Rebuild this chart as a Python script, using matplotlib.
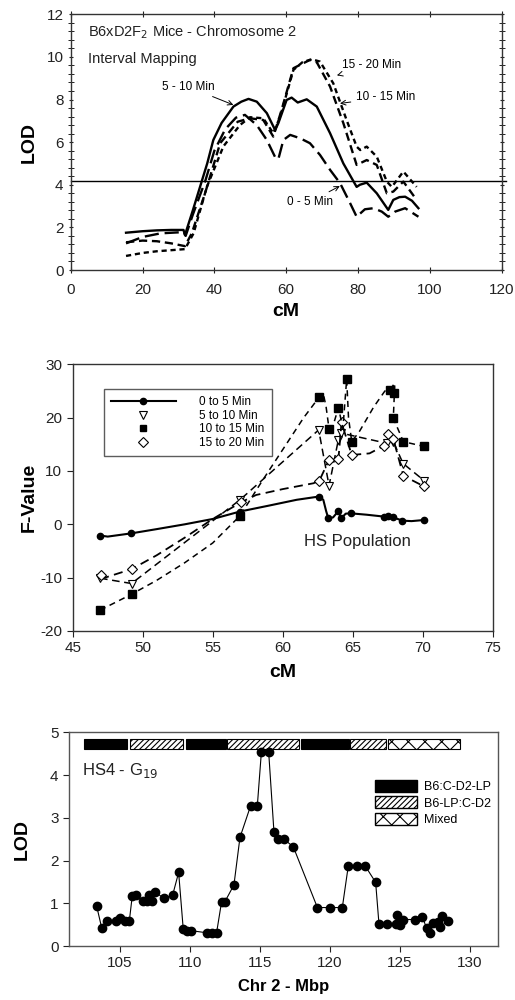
import matplotlib
matplotlib.use("Agg")
import matplotlib.pyplot as plt
from matplotlib.lines import Line2D
from matplotlib.patches import Patch

plt.rcParams['font.family'] = ['Liberation Sans', 'DejaVu Sans']
plt.rcParams['hatch.linewidth'] = 0.8
plt.rcParams['axes.unicode_minus'] = False

# %% Panel 1 - interval mapping LOD curves (B6xD2F2, chr 2)
x_0to5 = [15.4, 20, 25, 31.5, 32, 34, 37.5, 40, 43, 46, 48.5, 51.8, 54.6, 56.9, 57.8, 59.2,
          61.1, 63.9, 66.6, 69.4, 72.2, 75, 77.8, 79.6, 81.9, 84.3, 86.6, 88.4, 90.3, 93.1, 96.8]
lod_0to5 = [1.25, 1.55, 1.72, 1.78, 1.6, 2.6, 4.2, 5.6, 6.6, 7.15, 7.28, 6.8, 6.1, 5.3, 5.2, 6.1,
            6.34, 6.18, 5.95, 5.4, 4.7, 4.07, 3.13, 2.5, 2.85, 2.9, 2.74, 2.5, 2.74, 2.9, 2.5]

x_5to10 = [15.4, 20, 24, 28, 31.4, 31.8, 34, 36, 38, 39.7, 42, 45.3, 47.5, 49.5, 51.8, 54.6,
           56.9, 57.8, 60.1, 61.5, 63.2, 65.7, 68.5, 72.2, 75.9, 79.6, 80.5, 82.4, 85.2, 88.4,
           89.8, 91.5, 93.1, 95, 96.8]
lod_5to10 = [1.75, 1.82, 1.86, 1.88, 1.88, 1.64, 2.8, 3.9, 5.0, 6.1, 6.9, 7.67, 7.9, 8.03, 7.9, 7.36,
             6.57, 6.89, 7.98, 8.09, 7.86, 8.01, 7.67, 6.42, 5.0, 3.9, 4.0, 4.1, 3.6, 2.82,
             3.29, 3.42, 3.44, 3.25, 2.9]

x_10to15 = [15.4, 20, 24, 28, 31.8, 33.7, 37.4, 41.6, 46.5, 49.9, 53.6, 56.4, 58.7, 62, 66.6,
            68.5, 72.2, 75.9, 79.6, 82.4, 85.2, 88, 89.8, 92.6, 96.3]
lod_10to15 = [1.3, 1.38, 1.35, 1.25, 1.12, 1.72, 3.6, 5.95, 6.96, 7.12, 7.04, 6.26, 7.51, 9.47, 9.86,
              9.75, 8.61, 6.89, 4.93, 5.16, 4.93, 3.6, 3.68, 4.15, 3.29]

x_15to20 = [15.4, 20, 24, 28, 31.8, 34.2, 37.9, 42.5, 47.1, 49.9, 53.6, 56.4, 58.3, 62, 64.5,
            67.1, 69.4, 73.1, 76.8, 79.6, 80.6, 82.4, 85.2, 88, 89.4, 92.6, 96.3]
lod_15to20 = [0.66, 0.8, 0.88, 0.93, 0.98, 1.72, 3.9, 5.8, 6.8, 7.17, 7.12, 6.42, 7.2, 9.39, 9.75,
              9.89, 9.78, 8.76, 7.04, 5.79, 5.63, 5.79, 5.32, 4.15, 3.9, 4.62, 3.9]

threshold = 4.2

# %% Panel 2 - HS population F-values
f_0to5_x = [46.95, 49.17, 56.95, 62.57, 63.26, 63.98, 64.17, 64.86, 67.26, 67.55, 67.9, 68.55, 70.1]
f_0to5 = [-2.1, -1.7, 2.4, 5.2, 1.1, 2.5, 1.1, 2.06, 1.44, 1.56, 1.3, 0.69, 0.81]
# points
curve_0to5_x = [46.95, 47.5, 49.17, 51, 53, 55, 56.95, 59, 61, 62.57, 62.9, 63.1, 63.26, 63.6,
                63.98, 64.17, 64.5, 64.86, 66, 67.26, 67.55, 67.9, 68.55, 69.2, 70.1]
curve_0to5 = [-2.1, -2.3, -1.7, -0.9, 0.0, 1.0, 2.4, 3.5, 4.6, 5.2, 4.6, 2.5, 1.1, 1.3,
              2.5, 1.1, 2.0, 2.06, 1.8, 1.44, 1.56, 1.3, 0.69, 0.6, 0.81]

f_5to10_x = [46.95, 49.2, 56.95, 62.57, 63.31, 63.98, 64.17, 67.43, 67.9, 68.6, 70.1]
f_5to10 = [-10.1, -11.1, 4.6, 17.7, 7.25, 15.9, 17.1, 15.2, 15.5, 11.4, 8.2]

f_10to15_x = [46.95, 49.21, 56.95, 62.62, 63.31, 63.98, 64.57, 64.93, 67.67, 67.98, 67.9, 68.62, 70.1]
f_10to15 = [-16.1, -13.1, 1.6, 23.9, 17.9, 21.9, 27.25, 15.5, 25.2, 24.7, 19.9, 15.5, 14.6]
curve_10to15_x = [46.95, 49.21, 51, 53, 55, 56.95, 58.5, 60, 61.5, 62.62, 62.9, 63.1, 63.31, 63.6,
                  63.98, 64.3, 64.57, 64.7, 64.93, 65.5, 66.5, 67.3, 67.67, 68.0, 67.98, 67.9,
                  68.62, 70.1]
curve_10to15 = [-16.1, -13.1, -10.5, -7.2, -3.5, 1.6, 8.0, 14.0, 20.0, 23.9, 24.5, 22.0, 17.9, 18.5,
                21.9, 18.0, 27.25, 20.0, 15.5, 17.5, 22.0, 25.0, 25.2, 26.5, 24.7, 19.9,
                15.5, 14.6]

f_15to20_x = [47.0, 49.21, 57.0, 62.62, 63.31, 63.98, 64.2, 64.93, 67.26, 67.55, 67.9, 68.62, 70.1]
f_15to20 = [-9.5, -8.4, 4.1, 8.2, 12.1, 12.25, 19.1, 13.0, 14.75, 16.9, 16.0, 9.1, 7.1]
curve_15to20_x = [47.0, 47.3, 49.21, 51, 53, 55, 57.0, 58.1, 60, 62.2, 62.62, 63.31, 63.98,
                  64.2, 64.93, 66.2, 67.26, 67.55, 67.9, 68.62, 70.1]
curve_15to20 = [-9.5, -10.0, -8.4, -5.8, -2.5, 1.0, 4.1, 5.5, 6.6, 7.7, 8.2, 12.1, 12.25,
                19.1, 13.0, 13.3, 14.75, 16.9, 16.0, 9.1, 7.1]

# %% Panel 3 - HS4 G19 LOD vs Mbp
mbp = [103.33, 103.69, 104.1, 104.69, 105.0, 105.36, 105.67, 105.88, 106.14, 106.62, 106.9,
       107.07, 107.26, 107.48, 108.12, 108.76, 109.19, 109.52, 109.81, 110.05, 111.19, 111.55,
       111.9, 112.26, 112.5, 113.14, 113.57, 114.33, 114.81, 115.1, 115.62, 116.0, 116.29,
       116.71, 117.38, 119.1, 120.0, 120.88, 121.31, 121.9, 122.5, 123.26, 123.5, 124.1,
       124.71, 124.81, 125.0, 125.24, 126.07, 126.6, 126.9, 127.14, 127.38, 127.69, 127.98,
       127.86, 128.45]
lod_hs4 = [0.94, 0.43, 0.59, 0.59, 0.65, 0.59, 0.59, 1.18, 1.19, 1.05, 1.05,
           1.19, 1.05, 1.27, 1.12, 1.19, 1.72, 0.39, 0.36, 0.36, 0.31, 0.31,
           0.31, 1.04, 1.04, 1.43, 2.54, 3.28, 3.28, 4.54, 4.54, 2.66, 2.5,
           2.5, 2.32, 0.9, 0.9, 0.9, 1.88, 1.88, 1.88, 1.49, 0.51, 0.51,
           0.51, 0.73, 0.49, 0.62, 0.62, 0.69, 0.41, 0.3, 0.53, 0.55, 0.7,
           0.45, 0.59]

haplo_start = [102.4, 105.7, 109.7, 112.65, 117.95, 121.43, 124.17]
haplo_end = [105.52, 109.48, 112.55, 117.81, 121.33, 123.98, 129.29]
haplo_type = ["B6:C-D2-LP", "B6-LP:C-D2", "B6:C-D2-LP", "B6-LP:C-D2", "B6:C-D2-LP", "B6-LP:C-D2", "Mixed"]
haplo_bottom = 4.61
haplo_top = 4.84

hatch_of = {"B6:C-D2-LP": None, "B6-LP:C-D2": "//////", "Mixed": "xx"}
face_of = {"B6:C-D2-LP": "black", "B6-LP:C-D2": "white", "Mixed": "white"}

fig = plt.figure(figsize=(5.15, 10), dpi=100)


def style_box(ax):
    for s in ax.spines.values():
        s.set_linewidth(1.0)
        s.set_color("#333333")
    ax.tick_params(labelsize=11, colors="#222222", width=0.8)


# %% Top panel
ax1 = fig.add_axes([0.1373, 0.730, 0.837, 0.2557])
lw = 1.7
ax1.plot(x_0to5, lod_0to5, color="black", lw=lw, dashes=(6, 2.5))
ax1.plot(x_5to10, lod_5to10, color="black", lw=lw)
ax1.plot(x_10to15, lod_10to15, color="black", lw=lw, dashes=(3.5, 2))
ax1.plot(x_15to20, lod_15to20, color="black", lw=lw, dashes=(2.2, 1.6))
ax1.axhline(threshold, color="black", lw=1.0, xmax=1.01, clip_on=False)
ax1.set_xlim(0, 120)
ax1.set_ylim(0, 12)
ax1.set_xticks(range(0, 121, 20))
ax1.set_yticks(range(0, 13, 2))
ax1.set_yticks([v * 0.4 for v in range(31)], minor=True)
ax1.tick_params(axis="y", which="both", direction="inout", right=True)
ax1.tick_params(axis="y", which="minor", length=4, width=0.6)
ax1.tick_params(axis="x", which="major", direction="inout", top=True, length=5, pad=7)
style_box(ax1)
ax1.set_xlabel("cM", fontsize=14, fontweight="bold", labelpad=4)
ax1.set_ylabel("LOD", fontsize=14, fontweight="bold", labelpad=6)
ax1.text(0.04, 0.93, "B6xD2F$_2$ Mice - Chromosome 2", transform=ax1.transAxes,
         fontsize=10.5, color="#222222", va="center")
ax1.text(0.04, 0.825, "Interval Mapping", transform=ax1.transAxes,
         fontsize=10.5, color="#222222", va="center")
arrow = dict(arrowstyle="->", color="black", lw=0.7)
ax1.annotate("5 - 10 Min", xy=(46, 7.7), xytext=(40, 8.6), fontsize=8.5, ha="right",
             va="center", arrowprops=arrow)
ax1.annotate("15 - 20 Min", xy=(73.4, 9.1), xytext=(75.5, 9.6), fontsize=8.5, ha="left",
             va="center", arrowprops=arrow)
ax1.annotate("10 - 15 Min", xy=(74.2, 7.8), xytext=(79.5, 8.1), fontsize=8.5, ha="left",
             va="center", arrowprops=arrow)
ax1.annotate("0 - 5 Min", xy=(75.6, 4.0), xytext=(73.0, 3.2), fontsize=8.5, ha="right",
             va="center", arrowprops=arrow)

# %% Middle panel
ax2 = fig.add_axes([0.1412, 0.369, 0.8155, 0.2667])
ax2.plot(curve_0to5_x, curve_0to5, color="black", lw=1.5)
ax2.plot(f_0to5_x, f_0to5, "o", color="black", ms=4.5)
ax2.plot(f_5to10_x, f_5to10, color="black", lw=1.1, dashes=(5, 3),
         marker="v", ms=6, mfc="white", mec="black", mew=0.8)
ax2.plot(curve_15to20_x, curve_15to20, color="black", lw=1.3, dashes=(5, 3))
ax2.plot(f_15to20_x, f_15to20, "D", color="black", ms=5.5, mfc="white", mew=0.8)
ax2.plot(curve_10to15_x, curve_10to15, color="black", lw=1.1, dashes=(4, 3))
ax2.plot(f_10to15_x, f_10to15, "s", color="black", ms=5.5)
ax2.set_xlim(45, 75)
ax2.set_ylim(-20, 30)
ax2.set_xticks(range(45, 76, 5))
ax2.set_yticks(range(-20, 31, 10))
ax2.tick_params(direction="out", length=4)
style_box(ax2)
ax2.set_xlabel("cM", fontsize=14, fontweight="bold", labelpad=6)
ax2.set_ylabel("F-Value", fontsize=14, fontweight="bold", labelpad=2)
ax2.text(0.55, 0.32, "HS Population", transform=ax2.transAxes, fontsize=12, color="#222222")
handles2 = [
    Line2D([], [], color="black", lw=1.5, marker="o", ms=4.5),
    Line2D([], [], ls="none", marker="v", ms=6, mfc="white", mec="black", mew=0.8),
    Line2D([], [], ls="none", marker="s", ms=5, color="black"),
    Line2D([], [], ls="none", marker="D", ms=5, mfc="white", mec="black", mew=0.8),
]
leg2 = ax2.legend(handles2, ["0 to 5 Min", "5 to 10 Min", "10 to 15 Min", "15 to 20 Min"],
                  loc="upper left", bbox_to_anchor=(0.06, 0.93), fontsize=8.5,
                  handlelength=5.5, handletextpad=2.0, labelspacing=0.15,
                  frameon=True, fancybox=False, borderpad=0.6)
leg2.get_frame().set_edgecolor("#333333")
leg2.get_frame().set_linewidth(1.0)

# %% Bottom panel
ax3 = fig.add_axes([0.134, 0.054, 0.833, 0.2137])
ax3.plot(mbp, lod_hs4, color="black", lw=0.8, marker="o", ms=6)
for s, e, t in zip(haplo_start, haplo_end, haplo_type):
    ax3.bar(s, haplo_top - haplo_bottom, width=e - s, bottom=haplo_bottom, align="edge",
            facecolor=face_of[t], edgecolor="black", hatch=hatch_of[t], lw=0.8)
ax3.set_xlim(101.36, 132.0)
ax3.set_ylim(0, 5)
ax3.set_xticks(range(105, 131, 5))
ax3.set_yticks(range(0, 6))
ax3.tick_params(direction="out", length=4)
style_box(ax3)
for s in ax3.spines.values():
    s.set_color("#555555")
ax3.set_xlabel("Chr 2 - Mbp", fontsize=12, fontweight="bold", labelpad=6)
ax3.set_ylabel("LOD", fontsize=14, fontweight="bold", labelpad=14)
ax3.text(0.03, 0.80, "HS4 - G$_{19}$", transform=ax3.transAxes, fontsize=12, color="#222222")
handles3 = [Patch(facecolor=face_of[k], edgecolor="black", hatch=hatch_of[k]) for k in hatch_of]
ax3.legend(handles3, list(hatch_of), loc="upper right", bbox_to_anchor=(1.01, 0.83),
           fontsize=9, frameon=False, handlelength=3.3, handleheight=1.1,
           labelspacing=0.25, handletextpad=0.6)

fig.savefig("out.png", dpi=100)
